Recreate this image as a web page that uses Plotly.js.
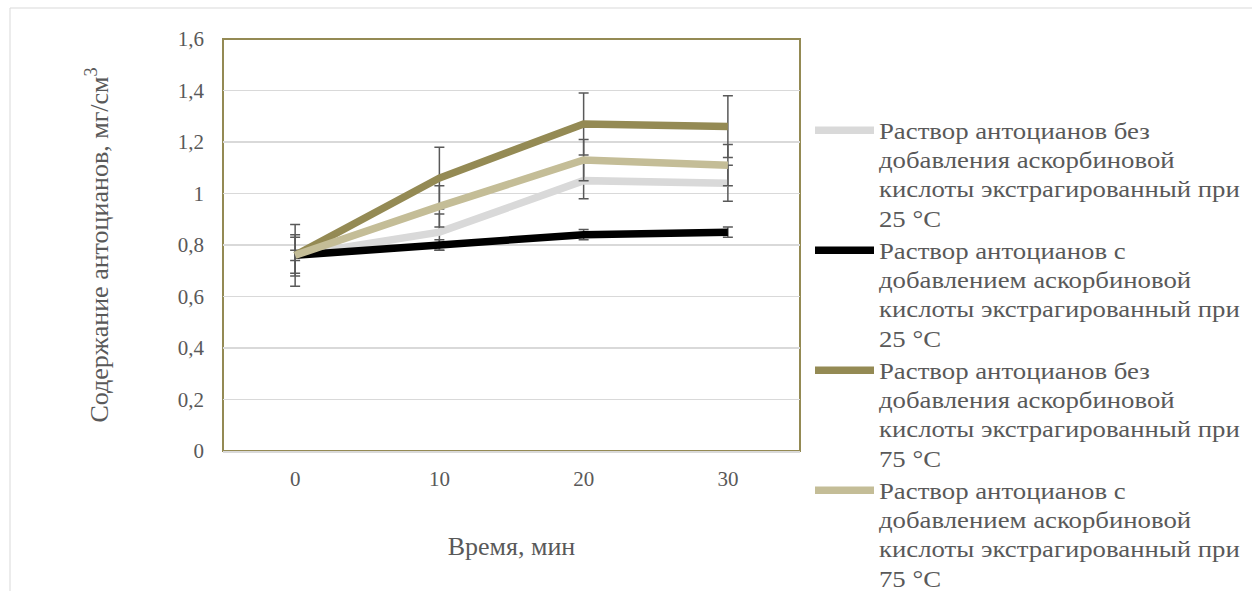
<!DOCTYPE html>
<html>
<head>
<meta charset="utf-8">
<script src="https://cdn.plot.ly/plotly-3.0.1.min.js"></script>
<style>
html,body{margin:0;padding:0;background:#fff;}
#chart{width:1252px;height:591px;}
#chart .legendtext{transform-box:fill-box;transform-origin:0 50%;transform:scaleX(1.19);}
#chart .legend .scrollbox{clip-path:none !important;}
#chart .legend{clip-path:none !important;}
</style>
</head>
<body>
<div id="chart"></div>
<script>
const categories = ['0', '10', '20', '30'];
const seriesNames = [
  'Раствор антоцианов без<br>добавления аскорбиновой<br>кислоты экстрагированный при<br>25 °C',
  'Раствор антоцианов с<br>добавлением аскорбиновой<br>кислоты экстрагированный при<br>25 °C',
  'Раствор антоцианов без<br>добавления аскорбиновой<br>кислоты экстрагированный при<br>75 °C',
  'Раствор антоцианов с<br>добавлением аскорбиновой<br>кислоты экстрагированный при<br>75 °C'
];
const noAcid25 = [0.76, 0.85, 1.05, 1.04];
const withAcid25 = [0.76, 0.80, 0.84, 0.85];
const noAcid75 = [0.76, 1.06, 1.27, 1.26];
const withAcid75 = [0.76, 0.95, 1.13, 1.11];
const errNoAcid25 = [0.07, 0.07, 0.07, 0.07];
const errWithAcid25 = [0.02, 0.02, 0.02, 0.02];
const errNoAcid75 = [0.12, 0.12, 0.12, 0.12];
const errWithAcid75 = [0.08, 0.08, 0.08, 0.08];

const colors = ['#D9D9D9', '#000000', '#948A54', '#C4BD97'];
const values = [noAcid25, withAcid25, noAcid75, withAcid75];
const errors = [errNoAcid25, errWithAcid25, errNoAcid75, errWithAcid75];

const FONT = 'Liberation Serif, Times New Roman, serif';

const traces = values.map((v, i) => ({
  type: 'scatter',
  mode: 'lines',
  x: categories,
  y: v,
  name: seriesNames[i],
  line: {color: colors[i], width: 7.5, shape: 'linear'},
  error_y: {type: 'data', array: errors[i], visible: true, color: '#595959', thickness: 1.5, width: 5},
  hoverinfo: 'x+y'
}));

const W = 1252, H = 591;
const L = 223, R = 800, T = 39, B = 451;
const pw = R - L, ph = B - T;
const px = x => (x - L) / pw;
const py = y => (B - y) / ph;

const layout = {
  width: W, height: H,
  margin: {l: L, r: W - R, t: T, b: H - B, pad: 0, autoexpand: false},
  paper_bgcolor: '#ffffff',
  plot_bgcolor: '#ffffff',
  separators: ', ',
  font: {family: FONT, color: '#595959', size: 21},
  showlegend: true,
  legend: {
    x: px(810), y: py(109), xanchor: 'left', yanchor: 'top',
    font: {family: FONT, size: 22.5, color: '#595959'},
    valign: 'top',
    tracegroupgap: 0,
    itemwidth: 59,
    maxheight: 2000,
    bgcolor: 'rgba(0,0,0,0)'
  },
  xaxis: {
    type: 'category',
    range: [-0.5, 3.5],
    showgrid: false,
    zeroline: false,
    showline: true,
    linecolor: '#D9D9D9',
    linewidth: 2,
    ticks: '',
    ticklabelstandoff: 8,
    tickfont: {family: FONT, size: 21, color: '#595959'},
    title: {text: 'Время, мин', font: {family: FONT, size: 26, color: '#595959'}, standoff: 47}
  },
  yaxis: {
    range: [0, 1.6],
    dtick: 0.2,
    tick0: 0,
    showgrid: true,
    gridcolor: '#D9D9D9',
    gridwidth: 1.5,
    zeroline: false,
    showline: false,
    ticks: '',
    ticklabelstandoff: 18,
    tickfont: {family: FONT, size: 21, color: '#595959'},
    title: {text: 'Содержание антоцианов, мг/см<sup>3</sup>', font: {family: FONT, size: 26, color: '#595959'}, standoff: 61}
  },
  shapes: [
    {type: 'rect', xref: 'paper', yref: 'paper', x0: 0, x1: 1, y0: 0, y1: 1,
     line: {color: '#948A54', width: 2}, layer: 'below'},
    {type: 'rect', xref: 'paper', yref: 'paper', x0: px(10), x1: px(1270), y0: py(8), y1: py(620),
     line: {color: '#D9D9D9', width: 1}, layer: 'below'}
  ]
};

Plotly.newPlot('chart', traces, layout, {displayModeBar: false, staticPlot: true});
</script>
</body>
</html>
